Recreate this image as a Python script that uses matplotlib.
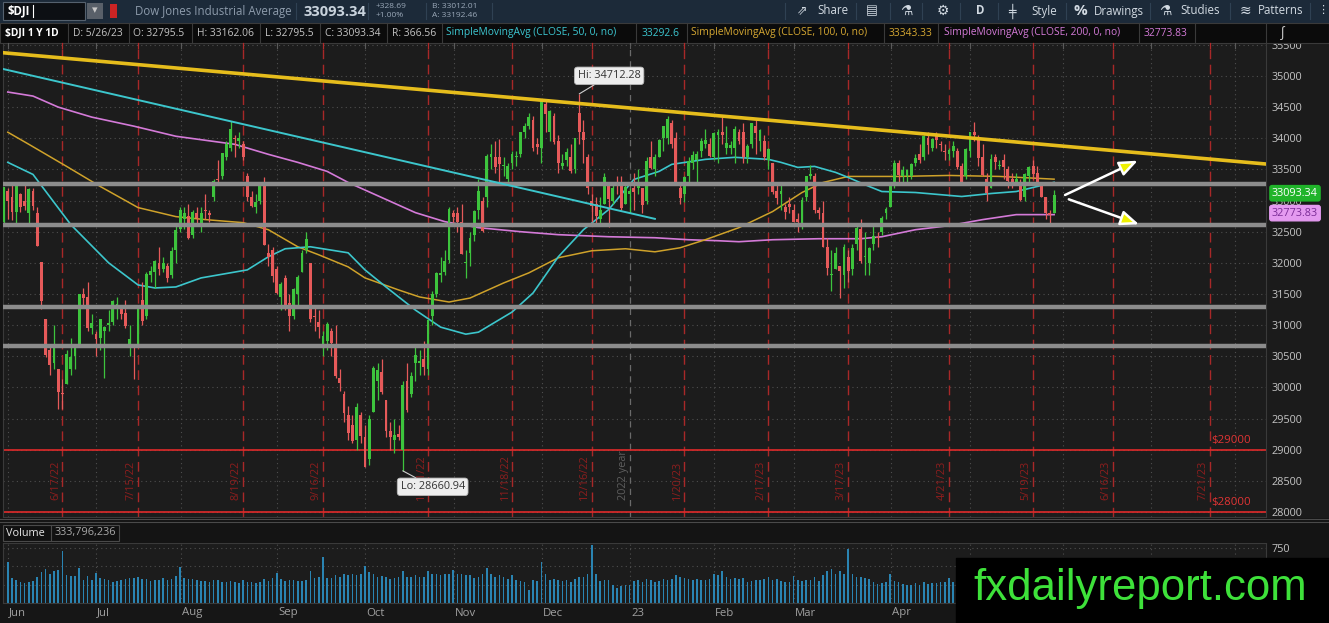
import numpy as np
import pandas as pd
import matplotlib
matplotlib.use('Agg')
import matplotlib.pyplot as plt
from matplotlib.patches import Rectangle

plt.rcParams['font.family'] = ['Open Sans', 'DejaVu Sans']

W, H = 1329, 623

# trading calendar (NYSE holidays in the shown range)
holidays = ['2022-05-30', '2022-06-20', '2022-07-04', '2022-09-05', '2022-11-24',
            '2022-12-26', '2023-01-02', '2023-01-16', '2023-02-20', '2023-04-07',
            '2023-05-29', '2023-06-19', '2023-07-04']

# daily OHLC, 2022-05-27 .. 2023-05-26 (one line per month)
opens = [32650, 33150,
    33050, 32810, 33100, 32990, 32800, 33150, 32800, 32020, 31100, 30600, 30400, 30300, 29900, 30050, 30300, 30500, 30700, 31500, 31450, 30950, 30850,
    30800, 30900, 31000, 31050, 31300, 31300, 31200, 30700, 30700, 30700, 31400, 31150, 31800, 31850, 32000, 31900, 31950, 31800, 32200, 32550,
    32700, 32750, 32450, 32800, 32600, 32850, 32800, 33050, 33350, 33400, 33700, 33850, 34000, 33950, 33900, 33400, 33050, 32900, 33000, 33300, 32150, 32200, 31900,
    31450, 31750, 31350, 31150, 31500, 31850, 32200, 32000, 31150, 31050, 30700, 30750, 30900, 30700, 30150, 29900, 29550, 29400, 29150, 29550, 29200,
    28850, 29600, 30100, 30250, 29800, 29300, 29150, 29250, 29000, 30100, 29900, 30400, 30400, 30450, 30300, 31150, 31500, 31800, 31850, 32050, 32800,
    32800, 32650, 32000, 32150, 32450, 32850, 33000, 33050, 33700, 33700, 33700, 33550, 33350, 33600, 33700, 33750, 34100, 34200, 34300, 33900, 33850,
    34550, 34100, 34350, 33950, 33550, 33650, 33700, 33500, 34400, 34100, 33700, 33000, 32950, 32700, 32950, 33300, 33000, 33250, 33250, 32950, 33100,
    33200, 33200, 33200, 33000, 33700, 33500, 33700, 34000, 34000, 34250, 34000, 33200, 33100, 33400, 33600, 33650, 33800, 33900, 33900, 33700,
    34050, 34100, 33850, 33850, 33850, 34100, 34100, 33700, 33900, 34200, 33950, 33950, 33650, 33600, 33150, 33100, 32900, 32950, 32850,
    32700, 32600, 33050, 33400, 33400, 32850, 32800, 32250, 31800, 31900, 31950, 31800, 32100, 31900, 32300, 32550, 32100, 32000, 32300, 32400, 32500, 32800, 32900,
    33250, 33600, 33400, 33400, 33400, 33600, 33750, 33700, 34000, 33850, 34050, 33900, 33800, 33750, 33800, 33800, 33550, 33400, 33800,
    34100, 34000, 33700, 33350, 33200, 33700, 33550, 33650, 33500, 33350, 33300, 33300, 33050, 33400, 33550, 33450, 33250, 33050, 32800, 32795.5]
highs = [33213, 33200,
    33300, 33250, 33120, 33300, 33200, 33200, 32900, 32020, 31100, 30700, 31000, 30300, 30140, 30600, 30800, 30700, 31500, 31600, 31700, 31180, 30900,
    31100, 30980, 31250, 31400, 31450, 31330, 31400, 31000, 30700, 31300, 31700, 31850, 31950, 32050, 32250, 32100, 32000, 32250, 32600, 32900,
    32900, 32950, 32850, 32900, 32900, 33100, 32850, 33350, 33650, 33770, 33950, 34281, 34050, 34100, 33950, 33450, 33150, 33100, 33300, 33380, 32300, 32250, 31950,
    31700, 31800, 31500, 31600, 31800, 32200, 32500, 32000, 31300, 31250, 30900, 31050, 30950, 31000, 30300, 29950, 29700, 29550, 29750, 29600, 29400,
    29550, 30350, 30400, 30450, 29800, 29450, 29500, 29400, 30100, 30400, 30250, 30700, 30600, 30750, 31100, 31550, 31850, 32100, 32200, 32900, 32850,
    32900, 32950, 32200, 32500, 32850, 33350, 33050, 33750, 33900, 33950, 33980, 33700, 33600, 33800, 33800, 34100, 34250, 34400, 34350, 34000, 34590,
    34595, 34450, 34400, 34050, 33750, 33850, 33900, 34010, 34712.28, 34300, 33750, 33100, 33050, 33050, 33450, 33300, 33250, 33400, 33400, 33300, 33200,
    33450, 33500, 33200, 33700, 33950, 33750, 33980, 34200, 34350, 34300, 34100, 33250, 33400, 33700, 33800, 33800, 34000, 34150, 34000, 34100,
    34150, 34334, 34200, 33950, 34200, 34150, 34250, 33900, 34250, 34300, 34150, 34050, 33850, 33600, 33250, 33300, 32950, 33050, 32950,
    32800, 33050, 33400, 33570, 33450, 32900, 33000, 32400, 32200, 32250, 31950, 32300, 32200, 32300, 32600, 32700, 32500, 32250, 32600, 32500, 32750, 32900, 33300,
    33650, 33650, 33550, 33500, 33600, 33750, 33900, 34050, 34100, 34000, 34100, 33950, 33900, 33850, 33950, 33850, 33600, 33850, 34100,
    34257, 34050, 33900, 33450, 33750, 33750, 33650, 33750, 33550, 33450, 33450, 33350, 33450, 33550, 33650, 33550, 33300, 33050, 32850, 33162.06]
lows = [32637, 32700,
    32680, 32620, 32810, 32850, 32620, 32850, 32270, 31260, 30490, 30200, 30300, 29660, 29653, 30050, 30200, 30300, 30700, 31300, 30900, 30850, 30500,
    30600, 30150, 30900, 31000, 31100, 31100, 30950, 30500, 30140, 30700, 31000, 31100, 31700, 31600, 31800, 31850, 31700, 31750, 32000, 32500,
    32550, 32380, 32400, 32600, 32500, 32700, 32650, 33000, 33250, 33350, 33650, 33800, 33700, 33850, 33650, 33000, 32900, 32800, 32950, 32280, 31950, 31700, 31500,
    31250, 31250, 30900, 31100, 31300, 31850, 32150, 31050, 30900, 30800, 30500, 30600, 30500, 30150, 29950, 29450, 29150, 29100, 29000, 29100, 28715,
    28750, 29600, 29800, 29900, 29200, 29000, 28950, 29150, 28660.94, 29600, 29850, 30100, 30200, 30200, 30200, 31000, 31450, 31700, 31800, 32000, 32600,
    32500, 32140, 31750, 31950, 32350, 32700, 32500, 32900, 33500, 33450, 33300, 33400, 33300, 33500, 33550, 33700, 34000, 34150, 33800, 33750, 33600,
    34100, 33950, 33900, 33450, 33500, 33550, 33450, 33450, 33900, 33600, 33100, 32650, 32600, 32600, 32950, 32570, 32950, 33100, 32850, 32950, 32800,
    32850, 33100, 32800, 32950, 33500, 33400, 33700, 33800, 33900, 33850, 33290, 32950, 32980, 33250, 33500, 33300, 33700, 33850, 33700, 33650,
    33600, 33900, 33750, 33750, 33600, 33900, 33600, 33600, 33850, 33750, 33800, 33650, 33500, 33100, 32950, 32850, 32700, 32800, 32650,
    32500, 32550, 33000, 33350, 32800, 32700, 32250, 31800, 31550, 31900, 31430, 31600, 31700, 31800, 32200, 32000, 31800, 31800, 32200, 32250, 32450, 32700, 32900,
    33200, 33300, 33300, 33250, 33350, 33550, 33600, 33650, 33750, 33800, 33850, 33800, 33650, 33650, 33700, 33500, 33280, 33350, 33700,
    33950, 33550, 33400, 33000, 33200, 33500, 33500, 33350, 33200, 33200, 33250, 33000, 33000, 33250, 33350, 33250, 33050, 32700, 32586, 32795.5]
closes = [33213, 32990,
    32813, 33248, 32900, 32916, 33180, 32910, 32272, 31393, 30517, 30365, 30668, 29927, 29889, 30530, 30484, 30677, 31500, 31439, 30947, 31029, 30775,
    31097, 30968, 31037, 31385, 31338, 31173, 30982, 30773, 30630, 31288, 31072, 31827, 31874, 32036, 31899, 31990, 31761, 32197, 32529, 32845,
    32798, 32396, 32813, 32726, 32803, 32832, 32774, 33309, 33336, 33761, 33913, 34152, 33980, 33999, 33706, 33063, 32910, 32969, 33291, 32283, 32099, 31791, 31510,
    31656, 31318, 31145, 31581, 31775, 32152, 32381, 31105, 31135, 30962, 30822, 31020, 30706, 30184, 30077, 29590, 29261, 29135, 29684, 29226, 28726,
    29491, 30317, 30274, 29927, 29297, 29203, 29240, 29211, 30039, 29635, 30186, 30524, 30424, 30334, 31083, 31500, 31837, 31839, 32034, 32862, 32733,
    32653, 32148, 32001, 32403, 32827, 33161, 32514, 33716, 33748, 33537, 33593, 33554, 33547, 33746, 33700, 34098, 34194, 34347, 33850, 33853, 34590,
    34395, 34430, 33947, 33597, 33598, 33781, 33477, 34005, 34108, 33966, 33203, 32920, 32757, 32850, 33377, 33027, 33204, 33241, 32876, 33221, 33147,
    33136, 33270, 32930, 33631, 33518, 33704, 33973, 34190, 34303, 33911, 33297, 33045, 33375, 33630, 33734, 33744, 33949, 33978, 33717, 34086,
    34093, 34054, 33926, 33891, 34156, 33949, 33699, 33869, 34246, 34089, 34128, 33697, 33827, 33130, 33045, 33154, 32817, 32889, 32657,
    32662, 33004, 33391, 33432, 32856, 32798, 32255, 31910, 31819, 32155, 31875, 32247, 31862, 32245, 32560, 32031, 32106, 32238, 32433, 32395, 32718, 32860, 33274,
    33601, 33403, 33483, 33486, 33587, 33685, 33647, 34030, 33887, 33988, 33977, 33897, 33787, 33809, 33876, 33531, 33302, 33827, 34098,
    34051, 33684, 33414, 33128, 33674, 33619, 33562, 33531, 33309, 33301, 33349, 33012, 33420, 33535, 33427, 33287, 33056, 32800, 32765, 33093.34]
# volume, millions of shares
volumes = [300, 565,
    345, 320, 280, 275, 290, 300, 360, 420, 470, 400, 440, 455, 705, 385, 363, 363, 480, 318, 368, 318, 413,
    340, 330, 320, 290, 300, 310, 330, 335, 345, 360, 325, 330, 300, 310, 320, 335, 320, 330, 370, 490,
    340, 330, 330, 310, 300, 300, 290, 320, 320, 290, 280, 300, 290, 270, 320, 290, 280, 270, 280, 330, 300, 340, 410,
    330, 300, 320, 320, 300, 300, 310, 440, 340, 350, 633, 340, 340, 380, 360, 390, 380, 390, 380, 390, 500,
    420, 400, 360, 370, 360, 330, 340, 350, 440, 360, 350, 380, 350, 360, 430, 400, 390, 380, 390, 400, 450,
    390, 400, 380, 380, 340, 360, 390, 480, 400, 360, 380, 350, 330, 380, 310, 300, 280, 180, 320, 300, 560,
    400, 320, 330, 320, 300, 310, 280, 330, 360, 350, 400, 790, 390, 300, 310, 320, 250, 210, 230, 240, 250,
    300, 310, 290, 330, 320, 290, 300, 330, 310, 330, 380, 350, 340, 330, 310, 330, 320, 310, 330, 400,
    380, 430, 350, 330, 340, 330, 340, 290, 300, 320, 320, 330, 360, 320, 330, 300, 290, 290, 370,
    320, 300, 320, 310, 350, 300, 380, 440, 470, 400, 430, 400, 740, 390, 360, 350, 340, 330, 280, 260, 270, 290, 400,
    300, 290, 260, 240, 250, 270, 250, 280, 260, 270, 270, 280, 280, 340, 290, 300, 290, 280, 330,
    320, 330, 310, 300, 290, 280, 270, 280, 260, 260, 250, 270, 280, 300, 330, 280, 270, 290, 300, 280]

# moving averages
sma50_dates = ['2022-05-31', '2022-06-08', '2022-06-22', '2022-07-06', '2022-07-15', '2022-07-21', '2022-07-28',
               '2022-08-05', '2022-08-22', '2022-08-29', '2022-09-02', '2022-09-13', '2022-09-26', '2022-09-30',
               '2022-10-07', '2022-10-18', '2022-10-26', '2022-11-03', '2022-11-08', '2022-11-18', '2022-11-28',
               '2022-12-06', '2022-12-14', '2022-12-22', '2023-01-03', '2023-01-11', '2023-01-17', '2023-01-27',
               '2023-02-07', '2023-02-17', '2023-02-23', '2023-03-01', '2023-03-07', '2023-03-14', '2023-03-17',
               '2023-03-24', '2023-03-29', '2023-04-11', '2023-04-26', '2023-05-05', '2023-05-15', '2023-05-22', '2023-05-26']
sma50_vals = [33613, 33419, 32613, 32000, 31645, 31597, 31613,
              31758, 31887, 32097, 32226, 32258, 32161, 31887,
              31613, 31242, 30968, 30855, 30887, 31210, 31516,
              32097, 32532, 32855, 33339, 33468, 33581, 33661,
              33694, 33661, 33613, 33532, 33548, 33452, 33371,
              33226, 33145, 33129, 33065, 33113, 33145, 33226, 33292.6]
sma100_dates = ['2022-05-31', '2022-06-07', '2022-06-21', '2022-07-01', '2022-07-15', '2022-07-28', '2022-08-08',
                '2022-08-19', '2022-08-29', '2022-09-08', '2022-09-15', '2022-09-26', '2022-09-30', '2022-10-12',
                '2022-10-19', '2022-10-28', '2022-11-04', '2022-11-16', '2022-11-25', '2022-12-06', '2022-12-16',
                '2022-12-29', '2023-01-10', '2023-01-19', '2023-01-27', '2023-02-08', '2023-02-21', '2023-03-02',
                '2023-03-09', '2023-03-17', '2023-04-04', '2023-04-21', '2023-05-09', '2023-05-26']
sma100_vals = [34097, 33903, 33548, 33226, 32887, 32742, 32694,
               32645, 32532, 32258, 32129, 31935, 31758, 31565,
               31452, 31371, 31435, 31677, 31839, 32081, 32194,
               32226, 32177, 32242, 32371, 32565, 32823, 33129,
               33290, 33387, 33387, 33403, 33387, 33343.33]
sma200_dates = ['2022-05-31', '2022-06-08', '2022-06-16', '2022-06-29', '2022-07-14', '2022-07-28', '2022-08-17',
                '2022-08-29', '2022-09-08', '2022-09-19', '2022-09-26', '2022-10-06', '2022-10-18', '2022-10-27',
                '2022-11-08', '2022-11-22', '2022-12-06', '2022-12-22', '2023-01-10', '2023-01-23', '2023-02-01',
                '2023-02-08', '2023-02-21', '2023-03-08', '2023-03-22', '2023-03-29', '2023-04-11', '2023-04-21',
                '2023-05-03', '2023-05-15', '2023-05-26']
sma200_vals = [34742, 34677, 34500, 34339, 34194, 34032, 33903,
               33742, 33613, 33468, 33290, 33048, 32806, 32661,
               32565, 32500, 32452, 32419, 32403, 32371, 32355,
               32339, 32371, 32387, 32387, 32419, 32532, 32597,
               32694, 32774, 32773.83]

# drawings
support_levels = [33261, 32602, 31286, 30665]
price_alerts = [29000, 28000]
expiries = ['2022-06-17', '2022-07-15', '2022-08-19', '2022-09-16', '2022-10-21', '2022-11-18', '2022-12-16',
            '2023-01-20', '2023-02-17', '2023-03-17', '2023-04-21', '2023-05-19', '2023-06-16', '2023-07-21']
gold_trend = [('2022-06-01', 35360), ('2023-05-26', 33886)]
cyan_trend = [('2022-06-01', 35079), ('2023-01-10', 32706)]
# arrows: (days after last bar, price) -> (days after last bar, price)
arrows = [((2.6, 33089), (19.9, 33640)), ((3.5, 33020), (20.2, 32619))]

assert len(opens) == len(highs) == len(lows) == len(closes) == len(volumes)

days = pd.bdate_range('2022-05-27', '2023-08-31')
days = days[~days.isin(pd.to_datetime(holidays))]


def pos_of(d):
    return int(days.searchsorted(pd.Timestamp(d)))


o = np.array(opens, float)
h = np.array(highs, float)
l = np.array(lows, float)
c = np.array(closes, float)
v = np.array(volumes, float)
x = np.arange(len(c))
i0 = pos_of('2022-06-01')
last = len(c) - 1
PXD = 4.202  # pixels per bar in the reference


def xp(px):
    return i0 + (px - 12) / PXD


fig = plt.figure(figsize=(W / 100, H / 100), dpi=100, facecolor='#141414')


def box(x0, y0, x1, y1):
    return [x0 / W, 1 - y1 / H, (x1 - x0) / W, (y1 - y0) / H]


bg = fig.add_axes([0, 0, 1, 1], zorder=-5)
bg.set_xlim(0, W)
bg.set_ylim(H, 0)
bg.axis('off')
bg.add_patch(Rectangle((0, 0), W, 23, color='#1c2a39'))
bg.add_patch(Rectangle((1266, 43), 63, 474, color='#1b1b1b'))
bg.add_patch(Rectangle((0, 603), W, 20, color='#161616'))

# ---------------- price panel ----------------
ax = fig.add_axes(box(3, 43, 1266, 517), zorder=1)
ax.set_facecolor('#1c1c1c')
ax.set_xlim(xp(3), xp(1266))
ax.set_ylim(27920, 35529)
for s in ax.spines.values():
    s.set_color('#3a3a3a')
ax.set_xticks([])
ax.yaxis.tick_right()
ax.set_yticks(range(28000, 36000, 500))
ax.tick_params(axis='y', length=0, pad=4, labelcolor='#c4c4c4', labelsize=7.8)

for lev in range(28000, 36000, 500):
    ax.axhline(lev, color='#4e4e4e', lw=0.8, ls=(0, (1, 3)), zorder=0)

months = pd.date_range('2022-06-01', '2023-08-01', freq='MS')
month_x = [pos_of(m) - 0.9 for m in months]
for m, mx in zip(months, month_x):
    if m.month == 1:
        ax.axvline(mx, color='#6a6a6a', lw=0.9, ls=(0, (5, 4)), zorder=0)
        ax.text(mx - 0.3, 28192, '2022 year', rotation=90, ha='right', va='bottom',
                color='#5e5e5e', fontsize=7.8)
    elif mx > xp(5):
        ax.axvline(mx, color='#4e4e4e', lw=0.8, ls=(0, (1, 3)), zorder=0)

for d in expiries:
    ex = pos_of(d)
    ts = pd.Timestamp(d)
    ax.axvline(ex, color='#a82828', lw=1.0, ls=(0, (7, 4)), zorder=1)
    ax.text(ex - 0.35, 28192, f'{ts.month}/{ts.day}/{ts:%y}', rotation=90, ha='right', va='bottom',
            color='#8e1e1e', fontsize=7.8)

for lev in price_alerts:
    ax.axhline(lev, color='#e02a2a', lw=1.2, zorder=1)
    ax.text(xp(1251), lev + 60, f'${lev}', ha='right', va='bottom', color='#e03434', fontsize=8.2)

ax.plot([pos_of(d) for d in sma200_dates], sma200_vals, color='#d47ad8', lw=1.2, zorder=3)
ax.plot([pos_of(d) for d in sma100_dates], sma100_vals, color='#cfa22a', lw=1.1, zorder=3)
ax.plot([pos_of(d) for d in sma50_dates], sma50_vals, color='#3cc6cc', lw=1.2, zorder=3)

up = c >= o
cols = np.where(up, '#3dc43d', '#e65a5a')
ax.vlines(x, np.minimum(l, np.minimum(o, c)), np.maximum(h, np.maximum(o, c)), colors=cols, lw=0.9, zorder=4)
ax.bar(x, np.maximum(np.abs(c - o), 14), bottom=np.minimum(o, c), width=0.68, color=cols, lw=0, zorder=4)

for lev in support_levels:
    ax.axhline(lev, color='#8c8c8c', lw=3.2, zorder=5)

(ga, gpa), (gb, gpb) = gold_trend
ax.axline((pos_of(ga), gpa), (pos_of(gb), gpb), color='#e6bd1c', lw=2.6, zorder=5)
(ca, cpa), (cb, cpb) = cyan_trend
xa, xb = pos_of(ca), pos_of(cb)
slope = (cpb - cpa) / (xb - xa)
ax.plot([xp(3), xb], [cpa + slope * (xp(3) - xa), cpb], color='#3cc6cc', lw=1.4, zorder=5)

for (t0, p0), (t1, p1) in arrows:
    ax.annotate('', xy=(last + t1, p1), xytext=(last + t0, p0), zorder=6,
                arrowprops=dict(arrowstyle='-|>,head_length=1.1,head_width=0.45',
                                fc='#eef000', ec='white', lw=1.8, shrinkA=0, shrinkB=0))

ih = int(np.argmax(h))
il = int(np.argmin(l))
lbl = dict(fc='#ededed', ec='#b8b8b8', boxstyle='round,pad=0.3', lw=0.6)
ax.annotate(f'Hi: {h[ih]:.2f}', xy=(ih, h[ih]), xytext=(21.5, 13), textcoords='offset points',
            ha='center', va='center', fontsize=7.8, color='#333333', bbox=lbl, zorder=7,
            arrowprops=dict(arrowstyle='-', color='#cfcfcf', lw=0.8, shrinkA=0, shrinkB=0))
ax.annotate(f'Lo: {l[il]:.2f}', xy=(il, l[il]), xytext=(21.5, -11.5), textcoords='offset points',
            ha='center', va='center', fontsize=7.8, color='#333333', bbox=lbl, zorder=7,
            arrowprops=dict(arrowstyle='-', color='#cfcfcf', lw=0.8, shrinkA=0, shrinkB=0))

# ---------------- volume panel ----------------
axv = fig.add_axes(box(3, 543, 1266, 603), zorder=1)
axv.set_facecolor('#1c1c1c')
axv.set_xlim(xp(3), xp(1266))
axv.set_ylim(0, 818)
for s in axv.spines.values():
    s.set_color('#3a3a3a')
axv.set_xticks([])
axv.yaxis.tick_right()
axv.set_yticks([750])
axv.tick_params(axis='y', length=0, pad=4, labelcolor='#c4c4c4', labelsize=7.8)
for lev in (250, 500, 750):
    axv.axhline(lev, color='#4e4e4e', lw=0.8, ls=(0, (1, 3)), zorder=0)
for mx in month_x:
    axv.axvline(mx, color='#4e4e4e', lw=0.8, ls=(0, (1, 3)), zorder=0)
axv.bar(x, v, width=0.38, color='#2a84b2', lw=0, zorder=2)

# ---------------- overlay: header, labels, watermark ----------------
ov = fig.add_axes([0, 0, 1, 1], zorder=10)
ov.set_xlim(0, W)
ov.set_ylim(H, 0)
ov.axis('off')
ov.patch.set_alpha(0)

# top bar
ov.add_patch(Rectangle((3, 2), 82, 18, fc='#0c0f13', ec='#55616e', lw=0.8))
ov.text(8, 11, '$DJI', color='white', fontsize=8.3, va='center', fontweight='bold')
ov.plot([33, 33], [5, 17], color='white', lw=0.8)
ov.add_patch(Rectangle((87, 3), 16, 16, fc='#596069'))
ov.text(95, 11, '▾', color='#c8c8c8', ha='center', va='center', fontsize=8)
ov.add_patch(Rectangle((110, 4), 7, 14, fc='#cc2424'))
ov.text(135, 11, 'Dow Jones Industrial Average', color='#8d9bab', fontsize=8.3, va='center')
ov.text(304, 12, f'{c[-1]:.2f}', color='#c9d3dd', fontsize=10.5, fontweight='bold', va='center')
ov.text(376, 6.5, '+328.69', fontsize=6, color='#9aa8b8', va='center')
ov.text(376, 15.5, '+1.00%', fontsize=6, color='#9aa8b8', va='center')
ov.text(432, 6.5, 'B: 33012.01', fontsize=6, color='#9aa8b8', va='center')
ov.text(432, 15.5, 'A: 33192.46', fontsize=6, color='#9aa8b8', va='center')
for sx in (296, 368, 426, 492, 785, 856, 890, 922, 960, 998, 1066, 1150, 1230, 1310):
    ov.plot([sx, sx], [3, 19], color='#2f4153', lw=0.8)
tools = [(797, '⇗', 9), (817, 'Share', 8.3), (866, '▤', 9), (900, '⚗', 10), (937, '⚙', 10),
         (976, 'D', 8.3), (1008, '╪', 9), (1031, 'Style', 8.3), (1073, '%', 11), (1094, 'Drawings', 8.3),
         (1159, '⚗', 10), (1180, 'Studies', 8.3), (1240, '≋', 10), (1258, 'Patterns', 8.3), (1317, '⋮', 8)]
for tx, tt, fs in tools:
    ov.text(tx, 11, tt, color='#d2dae2', fontsize=fs, va='center',
            fontweight='bold' if tt in ('D', '%') else 'normal')

# study header row
ov.add_patch(Rectangle((0, 23), W, 20, fc='#0b0b0b', ec='#3a3a3a', lw=0.8))
rng = h[-1] - l[-1]
items = [(5, '$DJI 1 Y 1D', 'white', 'bold'), (73, 'D: 5/26/23', '#c4c4c4', 'normal'),
         (133, f'O: {o[-1]:g}', '#c4c4c4', 'normal'), (197, f'H: {h[-1]:.2f}', '#c4c4c4', 'normal'),
         (265, f'L: {l[-1]:g}', '#c4c4c4', 'normal'), (325, f'C: {c[-1]:.2f}', '#c4c4c4', 'normal'),
         (392, f'R: {rng:.2f}', '#c4c4c4', 'normal'),
         (446, 'SimpleMovingAvg (CLOSE, 50, 0, no)', '#3cc6d0', 'normal'),
         (642, f'{sma50_vals[-1]}', '#3cc6d0', 'normal'),
         (691, 'SimpleMovingAvg (CLOSE, 100, 0, no)', '#d6a832', 'normal'),
         (889, f'{sma100_vals[-1]}', '#d6a832', 'normal'),
         (944, 'SimpleMovingAvg (CLOSE, 200, 0, no)', '#d47ad8', 'normal'),
         (1144, f'{sma200_vals[-1]}', '#d47ad8', 'normal')]
for tx, tt, tc, fw in items:
    ov.text(tx, 33, tt, color=tc, fontsize=7.4, va='center', fontweight=fw)
for sx in (68, 129, 192, 260, 320, 387, 442, 636, 687, 884, 938, 1139, 1195, 1266):
    ov.plot([sx, sx], [23, 43], color='#3a3a3a', lw=0.8)
ov.text(1283, 33, '∫', color='#d0d0d0', fontsize=10, va='center', ha='center')

# small ticks on the top edge of the price panel
for mx in month_x:
    tpx = 12 + (mx - i0) * PXD
    if 5 < tpx < 1266:
        ov.plot([tpx, tpx], [43, 48], color='#5a5a5a', lw=0.8)
for d in expiries:
    tpx = 12 + (pos_of(d) - i0) * PXD
    ov.plot([tpx, tpx], [43, 48], color='#b02a2a', lw=0.9)


# last price bubbles on the price scale
def py(p):
    return H - ax.transData.transform((0, p))[1]


ov.text(1295, py(c[-1]) - 1.5, f'{c[-1]:.2f}', ha='center', va='center', color='white', fontsize=7.8,
        bbox=dict(fc='#20b42a', ec='#20b42a', boxstyle='round,pad=0.2'))
ov.text(1295, py(sma200_vals[-1]) - 1.5, f'{sma200_vals[-1]}', ha='center', va='center', color='#7a2c96',
        fontsize=7.8, bbox=dict(fc='#e49af0', ec='#e49af0', boxstyle='round,pad=0.2'))

# separators between panels
ov.add_patch(Rectangle((0, 518), W, 25, fc='#141414', ec='none'))
ov.plot([0, W], [519, 519], color='#4a4a4a', lw=0.8)
ov.plot([0, W], [522, 522], color='#4a4a4a', lw=0.8)
ov.add_patch(Rectangle((3, 525), 116, 16, fc='#111111', ec='#4a4a4a', lw=0.8))
ov.plot([51, 51], [525, 541], color='#4a4a4a', lw=0.8)
ov.text(6, 533, 'Volume', color='#e8e8e8', fontsize=7.8, va='center')
ov.text(55, 533, '333,796,236', color='#a8a8a8', fontsize=7.8, va='center')

# month labels
for m, mx in zip(months, month_x):
    name = m.strftime('%y') if m.month == 1 else m.strftime('%b')
    px_ = 12 + (mx - i0) * PXD
    if px_ < 950:
        ov.text(max(px_, 7) + 1, 613, name, color='#a0a0a0', fontsize=8.2, va='center')

# watermark
ov.add_patch(Rectangle((956, 558), W - 956, H - 558, color='black', zorder=8))
ov.text(973, 600, 'fxdailyreport.com', fontfamily='Liberation Sans', fontsize=31.5, color='#3ee13a',
        va='baseline', ha='left', zorder=9)

fig.savefig('out.png', dpi=100, facecolor=fig.get_facecolor())
